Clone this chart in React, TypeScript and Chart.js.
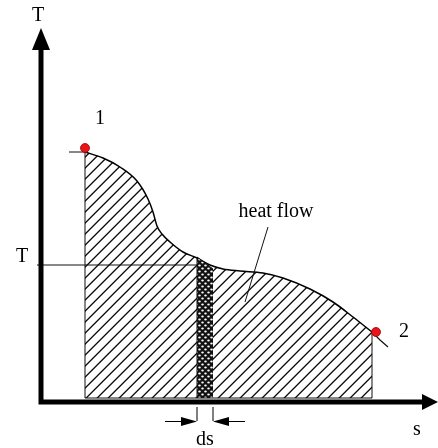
import React, { useEffect, useRef } from "react";
import { Chart, registerables } from "chart.js";
Chart.register(...registerables);

// T–s diagram data (entropy s, temperature T, arbitrary units)
const curveS = [1.1, 1.55, 1.975, 2.4, 2.675, 2.8, 2.9, 3.025, 3.225, 3.55, 3.9, 4.225, 4.55, 4.975, 5.55, 6.05, 6.725, 7.3, 7.8, 8.275];
const curveT = [6.15, 6.0, 5.775, 5.425, 4.975, 4.65, 4.3, 4.1, 3.9, 3.65, 3.5, 3.325, 3.225, 3.175, 3.125, 3.0, 2.725, 2.4, 2.025, 1.65];
const stripS = [3.9, 4.3];
const stripT = [3.525, 3.225];
const levelT = 3.325;
const tailS = [8.275, 8.475, 8.675];
const tailT = [1.65, 1.45, 1.275];
const stateS = [1.1, 8.375];
const stateT = [6.25, 1.65];
const stateLabels = ["1", "2"];
const leaderS = [5.675, 5.1];
const leaderT = [4.275, 2.4];
const S_MIN = -1.025, S_MAX = 9.925, T_MIN = -1.25, T_MAX = 9.95;

const FONT = '20px "Liberation Serif", "Times New Roman", serif';

function hatchPattern(): CanvasPattern | string {
  const c = document.createElement("canvas");
  const n = 11;
  c.width = n; c.height = n;
  const g = c.getContext("2d");
  if (!g) return "#999";
  for (let i = 0; i < n; i++) {
    const y = n - 1 - i;
    g.fillStyle = "#111";
    g.fillRect(i, y, 1, 1);
    g.fillStyle = "#666";
    g.fillRect(i, (y + 1) % n, 1, 1);
    g.fillStyle = "#bbb";
    g.fillRect(i, (y + n - 1) % n, 1, 1);
  }
  return g.createPattern(c, "repeat") || "#999";
}

function dotPattern(): CanvasPattern | string {
  const c = document.createElement("canvas");
  c.width = 6; c.height = 6;
  const g = c.getContext("2d");
  if (!g) return "#111";
  g.fillStyle = "#111";
  g.fillRect(0, 0, 6, 6);
  g.fillStyle = "#fff";
  g.beginPath(); g.ellipse(1.5, 1.5, 1.3, 0.9, 0, 0, Math.PI * 2); g.fill();
  g.beginPath(); g.ellipse(4.5, 4.5, 1.3, 0.9, 0, 0, Math.PI * 2); g.fill();
  return g.createPattern(c, "repeat") || "#111";
}

const pts = (xs: number[], ys: number[]) => xs.map((x, i) => ({ x, y: ys[i] }));

const line = (data: { x: number; y: number }[], width = 1, color = "#111") => ({
  type: "line" as const,
  data,
  borderColor: color,
  borderWidth: width,
  pointRadius: 0,
  fill: false,
  tension: 0,
  order: 1,
});

const decorPlugin = {
  id: "decor",
  afterDraw(chart: any) {
    const { ctx } = chart;
    const xs = chart.scales.x, ys = chart.scales.y;
    const px = (v: number) => xs.getPixelForValue(v);
    const py = (v: number) => ys.getPixelForValue(v);
    ctx.save();
    ctx.fillStyle = "#000";
    ctx.strokeStyle = "#000";
    const ox = px(0), oy = py(0) + 4;
    // axes
    ctx.lineWidth = 5;
    ctx.beginPath();
    ctx.moveTo(ox, oy + 2.5); ctx.lineTo(ox, py(8.8));
    ctx.moveTo(ox - 2.5, oy); ctx.lineTo(px(9.6), oy);
    ctx.stroke();
    ctx.beginPath();
    ctx.moveTo(ox, py(9.25)); ctx.lineTo(ox - 9, py(8.7)); ctx.lineTo(ox + 9, py(8.7)); ctx.closePath();
    ctx.fill();
    ctx.beginPath();
    ctx.moveTo(px(S_MAX), oy); ctx.lineTo(px(9.525), oy - 8); ctx.lineTo(px(9.525), oy + 8); ctx.closePath();
    ctx.fill();
    // ds dimension marks
    ctx.lineWidth = 1;
    const a = stripS[0], b = stripS[stripS.length - 1];
    const ay = py(-0.5875);
    ctx.beginPath();
    ctx.moveTo(px(a), py(-0.225)); ctx.lineTo(px(a), py(-0.575));
    ctx.moveTo(px(b), py(-0.225)); ctx.lineTo(px(b), py(-0.575));
    ctx.moveTo(px(3.1), ay); ctx.lineTo(px(a) - 12, ay);
    ctx.moveTo(px(5.1), ay); ctx.lineTo(px(b) + 12, ay);
    ctx.stroke();
    ctx.beginPath();
    ctx.moveTo(px(a), ay); ctx.lineTo(px(a) - 16, ay - 4.5); ctx.lineTo(px(a) - 16, ay + 4.5); ctx.closePath();
    ctx.moveTo(px(b), ay); ctx.lineTo(px(b) + 16, ay - 4.5); ctx.lineTo(px(b) + 16, ay + 4.5); ctx.closePath();
    ctx.fill();
    // texts
    ctx.font = FONT;
    ctx.textAlign = "center";
    ctx.textBaseline = "middle";
    ctx.fillText("T", px(-0.075), py(9.55));
    ctx.fillText("T", px(-0.475), py(levelT + 0.2));
    ctx.fillText(stateLabels[0], px(stateS[0] + 0.375), py(stateT[0] + 0.725));
    ctx.fillText(stateLabels[1], px(stateS[1] + 0.7), py(stateT[1]));
    ctx.fillText("heat flow", px(5.875), py(4.65));
    ctx.fillText("s", px(9.4), py(-0.8));
    ctx.fillText("ds", px(4.1), py(-1.05));
    ctx.restore();
  },
};

export default function App() {
  const ref = useRef<HTMLCanvasElement>(null);
  useEffect(() => {
    if (!ref.current) return;
    const curve = pts(curveS, curveT);
    const last = curveS.length - 1;
    const chart = new Chart(ref.current, {
      type: "scatter",
      data: {
        datasets: [
          line(pts(tailS, tailT), 1.2, "#111"),
          line(pts([curveS[0] - 0.4, curveS[0]], [curveT[0], curveT[0]])),
          line(pts([-0.1, stripS[0]], [levelT, levelT])),
          line(pts([curveS[0], curveS[0]], [0, curveT[0]])),
          line(pts([curveS[last], curveS[last]], [0, curveT[last]])),
          line(pts([curveS[0], curveS[last]], [0, 0])),
          line(pts([stripS[0], stripS[0]], [0, stripT[0]])),
          line(pts(leaderS, leaderT)),
          {
            type: "scatter" as const,
            data: pts(stateS, stateT),
            pointRadius: 4.5,
            pointBackgroundColor: "#e8141a",
            pointBorderColor: "#9a0000",
            pointBorderWidth: 0.8,
            order: 0,
          },
          {
            type: "line" as const,
            data: pts(stripS, stripT),
            borderColor: "#111",
            borderWidth: 1,
            backgroundColor: dotPattern(),
            fill: "origin",
            pointRadius: 0,
            tension: 0,
            order: 4,
          },
          {
            type: "line" as const,
            data: curve,
            borderColor: "#000",
            borderWidth: 1.5,
            backgroundColor: hatchPattern(),
            fill: "origin",
            pointRadius: 0,
            cubicInterpolationMode: "monotone" as const,
            order: 5,
          },
        ] as any,
      },
      options: {
        responsive: false,
        devicePixelRatio: 1,
        animation: false,
        layout: { padding: 0, autoPadding: false },
        plugins: { legend: { display: false }, tooltip: { enabled: false }, title: { display: false } },
        scales: {
          x: { type: "linear", min: S_MIN, max: S_MAX, display: false },
          y: { type: "linear", min: T_MIN, max: T_MAX, display: false },
        },
        events: [],
      },
      plugins: [decorPlugin],
    });
    return () => chart.destroy();
  }, []);
  return (
    <div style={{ position: "fixed", left: 0, top: 0, width: 438, height: 448, background: "#fff" }}>
      <canvas ref={ref} width={438} height={448} style={{ width: 438, height: 448, display: "block" }} />
    </div>
  );
}
